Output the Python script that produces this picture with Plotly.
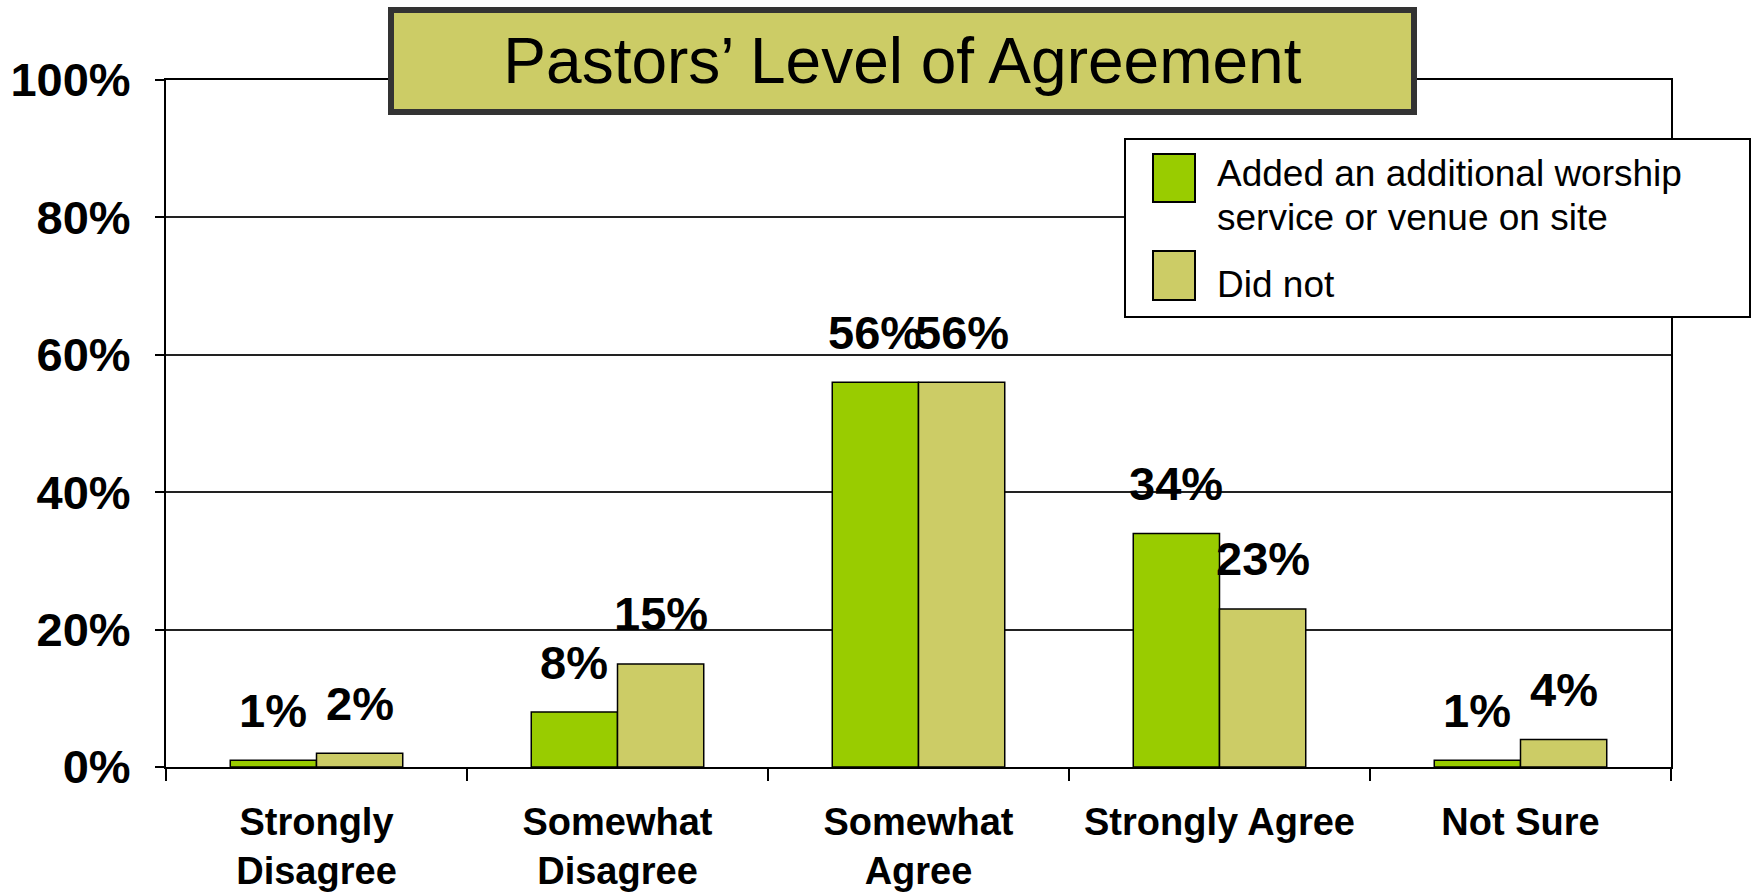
import plotly.graph_objects as go

categories = ["Strongly<br>Disagree", "Somewhat<br>Disagree", "Somewhat<br>Agree", "Strongly Agree", "Not Sure"]
added_values = [1, 8, 56, 34, 1]
didnot_values = [2, 15, 56, 23, 4]
series_names = ["Added an additional worship service or venue on site", "Did not"]
legend_lines = [["Added an additional worship", "service or venue on site"], ["Did not"]]
y_ticks = [0, 20, 40, 60, 80, 100]
y_tick_labels = ["0%", "20%", "40%", "60%", "80%", "100%"]
title_text = "Pastors’ Level of Agreement"

GREEN = "#99CC00"
TAN = "#CCCC66"
COLORS = [GREEN, TAN]
FONT = "Liberation Sans, Arial, sans-serif"
BARGAP = 0.427

W, H = 1754, 893
PL, PR, PT = 166, 83, 80
PLOT_W = W - PL - PR
PLOT_H = 687
PB = H - PT - PLOT_H

def px(x_page):
    return (x_page - PL) / PLOT_W

def py(y_page):
    return (PT + PLOT_H - y_page) / PLOT_H

fig = go.Figure()
for name, vals, col in zip(series_names, [added_values, didnot_values], COLORS):
    fig.add_trace(go.Bar(x=categories, y=vals, name=name, showlegend=False,
                         marker=dict(color=col, line=dict(color="black", width=1.5))))

# data labels above bars
half = (1 - BARGAP) / 4
annotations = []
for i, (a, d) in enumerate(zip(added_values, didnot_values)):
    for off, v in ((-half, a), (half, d)):
        annotations.append(dict(x=i + off, y=v, xref="x", yref="y", text=f"{v}%",
                                showarrow=False, yanchor="middle", yshift=50,
                                font=dict(family=FONT, size=47, color="black", weight="bold")))

# title box
annotations.append(dict(x=px(902), y=py(61), xref="paper", yref="paper", text=title_text,
                        showarrow=False, xanchor="center", yanchor="middle",
                        width=1017, height=96, bgcolor=TAN, bordercolor="#333333",
                        borderwidth=6, borderpad=0,
                        font=dict(family=FONT, size=64, color="black")))

# legend (box, swatches, text)
shapes = [dict(type="rect", xref="paper", yref="paper",
               x0=px(1125), x1=px(1750), y0=py(317), y1=py(139),
               fillcolor="white", line=dict(color="black", width=2), layer="above")]
swatch_y = [(154, 202), (251, 300)]
line_y = [[173, 217], [284]]
for col, (t, b), lines, ys in zip(COLORS, swatch_y, legend_lines, line_y):
    shapes.append(dict(type="rect", xref="paper", yref="paper",
                       x0=px(1153), x1=px(1195), y0=py(b), y1=py(t),
                       fillcolor=col, line=dict(color="black", width=2), layer="above"))
    for txt, yy in zip(lines, ys):
        annotations.append(dict(x=px(1215), y=py(yy), xref="paper", yref="paper", text=txt,
                                showarrow=False, xanchor="left", yanchor="middle",
                                font=dict(family=FONT, size=37, color="black")))

fig.update_layout(
    width=W, height=H,
    margin=dict(l=PL, r=PR, t=PT, b=PB, autoexpand=False),
    paper_bgcolor="white", plot_bgcolor="white",
    barmode="group", bargap=BARGAP, bargroupgap=0,
    font=dict(family=FONT, color="black"),
    showlegend=False,
    annotations=annotations,
    shapes=shapes,
    xaxis=dict(type="category", tickson="boundaries", ticks="outside", ticklen=12,
               tickcolor="black", tickwidth=2, showline=True, linecolor="black", linewidth=2,
               mirror=True, showgrid=False, ticklabelstandoff=20, automargin=False,
               tickfont=dict(family=FONT, size=38, color="black", weight="bold")),
    yaxis=dict(range=[0, 100], tickvals=y_ticks, ticktext=y_tick_labels, ticks="outside",
               ticklen=9, tickcolor="black", tickwidth=2, showline=True, linecolor="black",
               linewidth=2, mirror=True, showgrid=True, gridcolor="#222222", gridwidth=2,
               zeroline=False, ticklabelstandoff=15, automargin=False,
               tickfont=dict(family=FONT, size=47, color="black", weight="bold")),
)

fig.write_html("out.html", config={"displayModeBar": False},
               post_script="document.body.style.margin='0px';document.body.style.overflow='hidden';")
